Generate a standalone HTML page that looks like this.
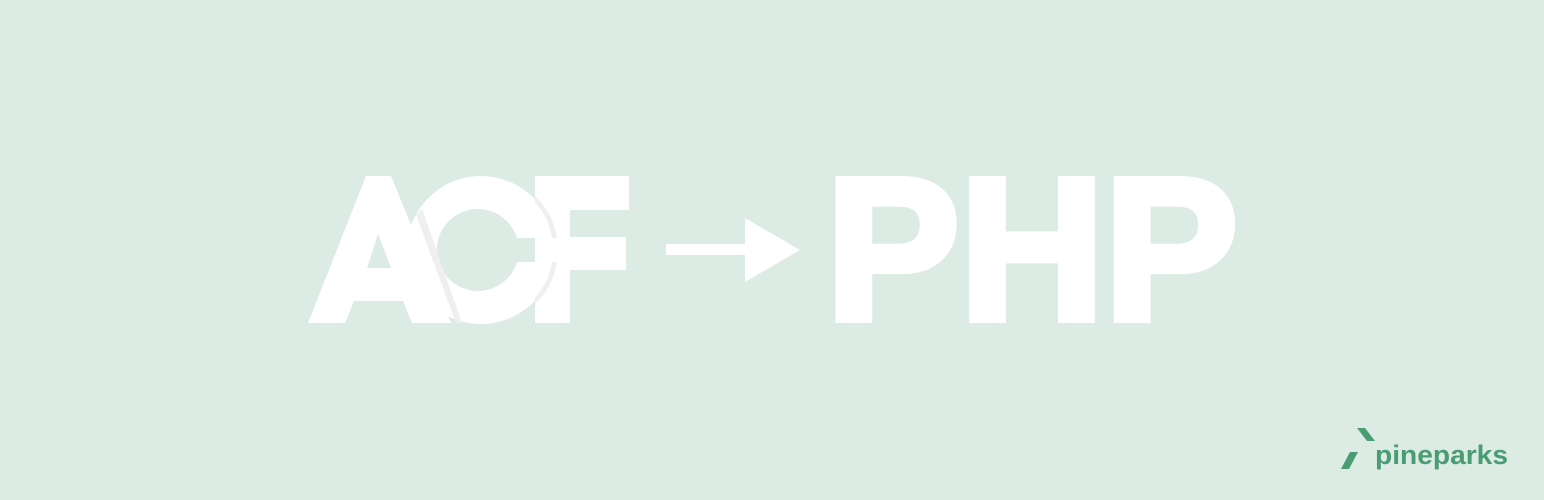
<!DOCTYPE html>
<html><head><meta charset="utf-8"><style>
html,body{margin:0;padding:0;background:#dcebe3;}
svg{display:block}
</style></head><body>
<svg width="1544" height="500" viewBox="0 0 1544 500">
<rect width="1544" height="500" fill="#dcebe3"/>
<g fill="#ffffff">
  <path fill-rule="evenodd" d="M517,238 A41,41 0 1 0 517,262 L535,262 L535,238 Z M554,238 A74,74 0 1 0 554,262 Z"/>
  <path d="M416,215 L422,209 L462,323 L456,323 Z" fill="#efefef"/>
  <path fill-rule="evenodd" d="M308,323 L366,176 L391,176 L451,323 L412,323 L403,301 L354,301 L345,323 Z M367,268 L391,268 L378,234 Z"/>
  <path d="M535,176 L629,176 L629,210 L570,210 L570,237 L626,237 L626,270 L570,270 L570,323 L535,323 Z"/>
  <path d="M535,196 A74,74 0 0 1 557,238 L552,238 A70,70 0 0 0 535,202 Z M535,304 A74,74 0 0 0 557,262 L552,262 A70,70 0 0 1 535,298 Z" fill="#efefef"/>
</g>
<g fill="#ffffff">
  <rect x="666" y="244" width="80" height="11"/>
  <polygon points="745,218 800,250 745,282"/>
</g>
<text x="826" y="319" font-family="Liberation Sans, sans-serif" font-weight="bold" font-size="202" fill="#ffffff" stroke="#ffffff" stroke-width="8" stroke-linejoin="miter" textLength="412" lengthAdjust="spacingAndGlyphs">PHP</text>
<g>
  <polygon points="1357,428 1365,428 1375,441 1367,441" fill="#4a9d72"/>
  <polygon points="1350,452 1358,452 1349,469 1341,469" fill="#4a9d72"/>
  <text x="1375" y="464" font-family="Liberation Sans, sans-serif" font-weight="bold" font-size="27" fill="#4a9d72" textLength="133" lengthAdjust="spacingAndGlyphs">pineparks</text>
</g>
</svg>
</body></html>
